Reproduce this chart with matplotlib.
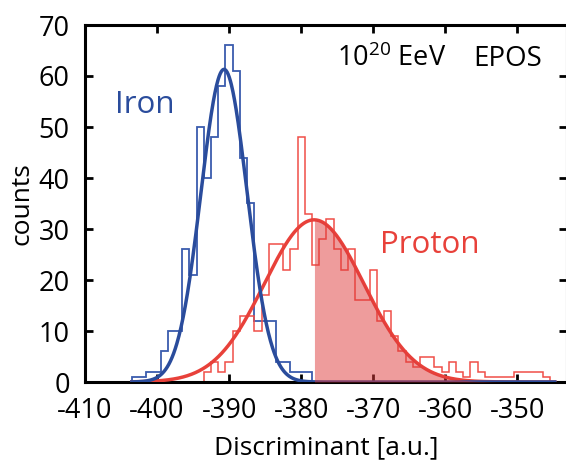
import matplotlib
matplotlib.use('Agg')
import matplotlib.pyplot as plt
import numpy as np

plt.rcParams['font.family'] = ['Open Sans', 'DejaVu Sans']
plt.rcParams['mathtext.fontset'] = 'custom'
plt.rcParams['mathtext.rm'] = 'Open Sans'
plt.rcParams['axes.unicode_minus'] = False

# histogram counts, 1 unit bins
iron_first_edge = -403.5
iron_counts = [1, 1, 2, 2, 6, 10, 10, 26, 21, 50, 40, 48, 58, 66, 61, 44, 35,
               12, 12, 12, 4, 4, 2, 2, 2]
proton_first_edge = -393.5
proton_counts = [2, 4, 2, 4, 10, 13, 13, 10, 17, 27, 27, 22, 26, 48, 33, 23, 28,
                 32, 26, 22, 26, 16, 16, 22, 12, 14, 9, 6, 4, 3, 5, 5, 3, 2, 4,
                 2, 1, 4, 2, 1, 1, 1, 1, 2, 2, 2, 2, 1]

# gaussian fits (amplitude, mean, sigma)
iron_fit = (61.3, -390.7, 3.2)
proton_fit = (31.8, -378.2, 6.9)
fit_range = (-403.5, -344.8)

blue_line = '#2a4c9c'
blue_hist = '#3a5cae'
red_line = '#e8413a'
red_hist = '#f04e48'


def gauss(x, p):
    a, mu, s = p
    return a * np.exp(-0.5 * ((x - mu) / s) ** 2)


fig = plt.figure(figsize=(5.66, 4.61), dpi=100)
ax = fig.add_axes([85 / 566, 1 - 382 / 461, 482 / 566, 357 / 461])

iron_edges = iron_first_edge + np.arange(len(iron_counts) + 1)
proton_edges = proton_first_edge + np.arange(len(proton_counts) + 1)
ax.stairs(iron_counts, iron_edges, color=blue_hist, lw=1.3, zorder=2)
ax.stairs(proton_counts, proton_edges, color=red_hist, lw=1.1, zorder=2)

xx = np.linspace(fit_range[0], fit_range[1], 800)
ax.plot(xx, gauss(xx, proton_fit), color=red_line, lw=2.5, zorder=3)
ax.plot(xx, gauss(xx, iron_fit), color=blue_line, lw=2.5, zorder=3)

# shaded tail of the proton fit beyond its mean
xs = xx[xx >= proton_fit[1]]
ax.fill_between(xs, 0, gauss(xs, proton_fit), color='#df3a3a', alpha=0.5,
                lw=0, zorder=4)

ax.set_xlim(-410, -343.1)
ax.set_ylim(0, 70)
ax.set_xticks(np.arange(-410, -349, 10))
ax.set_yticks(np.arange(0, 71, 10))
ax.tick_params(direction='in', length=6, width=2, labelsize=19.5,
               top=True, right=True)
ax.tick_params(axis='x', pad=11)
ax.tick_params(axis='y', pad=11)
for sp in ax.spines.values():
    sp.set_linewidth(2.2)

ax.set_xlabel('Discriminant [a.u.]', fontsize=19, labelpad=7)
ax.set_ylabel('counts', fontsize=19, labelpad=3)

ax.text(-405.8, 52.7, 'Iron', color=blue_line, fontsize=22.5, va='baseline')
ax.text(-369.0, 25.3, 'Proton', color=red_line, fontsize=22.5, va='baseline')
ax.text(-375.0, 62, r'$\mathregular{10^{20}}$ EeV', fontsize=19.5,
        va='baseline')
ax.text(-356.1, 62, 'EPOS', fontsize=20, va='baseline')

fig.savefig('out.png', dpi=100)
